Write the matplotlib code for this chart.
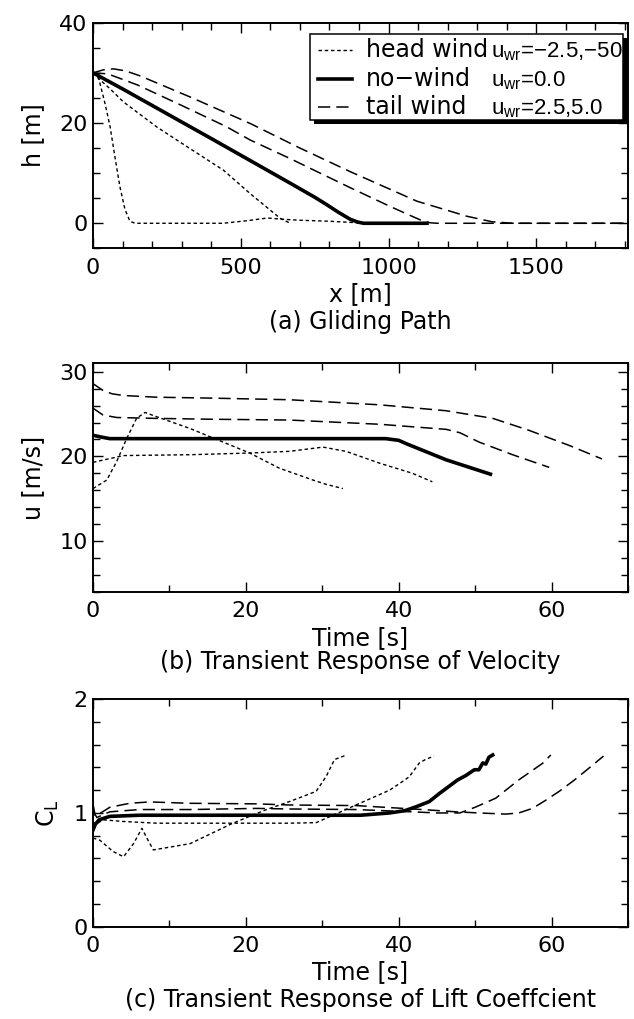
import matplotlib
matplotlib.use("Agg")
import matplotlib.pyplot as plt
from matplotlib import font_manager
from matplotlib.font_manager import FontProperties
from matplotlib.patches import Rectangle
from matplotlib.ticker import MultipleLocator

plt.rcParams["font.family"] = ["DejaVu Sans"]
plt.rcParams["mathtext.fontset"] = "dejavusans"
plt.rcParams["mathtext.default"] = "regular"
plt.rcParams["font.size"] = 17

# (a) gliding path: x [m], h [m]
x_head5 = [0, 18, 41, 58, 74, 91, 108, 125, 142, 200, 300, 440, 520, 590, 640, 700, 800, 880, 920]
h_head5 = [30, 29.2, 23.8, 19.2, 13.3, 7.3, 2.8, 0.4, 0, 0, 0, 0, 0.5, 1.05, 0.8, 0.6, 0.4, 0.15, 0]
x_head25 = [0, 20, 58, 103, 216, 328, 441, 532, 600, 633, 667]
h_head25 = [30, 28.8, 26.8, 24.2, 19.2, 14.9, 10.6, 5.9, 2.6, 1.0, 0]
x_nowind = [0, 100, 200, 300, 400, 532, 667, 750, 791, 830, 870, 895, 915, 1130]
h_nowind = [30, 26.8, 23.5, 20.2, 16.9, 12.5, 8.0, 5.2, 3.7, 2.2, 0.8, 0.25, 0, 0]
x_tail25 = [0, 50, 150, 300, 450, 532, 667, 870, 1000, 1060, 1110, 1140, 1164, 1810]
h_tail25 = [30, 29.8, 27.6, 23.5, 19.3, 16.6, 12.9, 7.1, 3.5, 1.9, 0.6, 0.1, 0, 0]
x_tail5 = [0, 35, 69, 110, 159, 328, 532, 700, 870, 1096, 1265, 1350, 1420, 1810]
h_tail5 = [30, 30.6, 30.8, 30.4, 29.4, 25.2, 19.9, 15.0, 10.3, 4.4, 1.4, 0.3, 0, 0]

# (b) velocity: t [s], u [m/s]
t_u_head5 = [0, 1.8, 3.1, 4.4, 5.7, 6.8, 8.3, 12.7, 17.0, 20.5, 24.4, 28.8, 30.5, 32.7]
u_head5 = [16.2, 17.2, 19.4, 22.1, 24.5, 25.2, 24.7, 23.3, 21.7, 20.4, 18.6, 17.2, 16.7, 16.2]
t_u_head25 = [0, 1, 4, 12.7, 20.5, 25.7, 30.1, 33.1, 37.5, 41.8, 44.4]
u_head25 = [19.3, 19.5, 20.1, 20.2, 20.4, 20.6, 21.1, 20.6, 19.2, 18.0, 17.0]
t_u_nowind = [0, 1, 2.2, 10, 20, 30, 38.3, 40, 41, 46.2, 52.0]
u_nowind = [22.5, 22.3, 22.1, 22.1, 22.1, 22.1, 22.1, 21.9, 21.5, 19.6, 17.9]
t_u_tail25 = [0, 1.3, 3.1, 8, 15, 25.7, 37.5, 46.2, 48, 50.5, 54.9, 59.7]
u_tail25 = [25.7, 24.9, 24.6, 24.5, 24.4, 24.3, 23.8, 23.2, 22.8, 21.7, 20.2, 18.7]
t_u_tail5 = [0, 1.3, 2.5, 4.0, 8.3, 15, 25.7, 37.5, 46.2, 52.3, 57.0, 62.3, 66.6]
u_tail5 = [28.6, 27.8, 27.4, 27.2, 27.0, 26.9, 26.7, 26.1, 25.4, 24.5, 23.1, 21.3, 19.7]

# (c) lift coefficient: t [s], C_L
t_c_head5 = [0, 0.9, 2.65, 4.0, 5.3, 6.4, 7.2, 7.9, 12.7, 18.3, 22.7, 25.7, 29.2, 30.5, 31.6, 32.4, 33.2]
cl_head5 = [0.78, 0.76, 0.66, 0.615, 0.73, 0.865, 0.76, 0.675, 0.73, 0.91, 1.03, 1.10, 1.19, 1.32, 1.47, 1.49, 1.51]
t_c_head25 = [0, 0.4, 1.3, 4, 8.3, 15, 25.7, 29.2, 31.4, 34.4, 38.8, 40.8, 41.4, 42.7, 43.5, 44.6]
cl_head25 = [0.92, 0.9, 0.94, 0.925, 0.91, 0.91, 0.91, 0.915, 0.98, 1.07, 1.2, 1.29, 1.32, 1.44, 1.47, 1.5]
t_c_nowind = [0, 0.3, 0.8, 2.2, 6.1, 15, 25, 35, 38.8, 40.8, 42.3, 44, 45.3, 47.7, 48.8, 49.9, 50.5, 51, 51.4, 51.8, 52.3]
cl_nowind = [0.85, 0.9, 0.94, 0.97, 0.98, 0.98, 0.98, 0.98, 1.0, 1.02, 1.055, 1.1, 1.17, 1.29, 1.33, 1.38, 1.38, 1.44, 1.43, 1.49, 1.51]
t_c_tail25 = [0, 0.5, 2.2, 6.1, 12.7, 21.4, 25.7, 34.4, 41.8, 44.9, 48, 50, 52.7, 55.7, 58.9, 59.9]
cl_tail25 = [1.02, 0.96, 1.01, 1.03, 1.03, 1.04, 1.035, 1.03, 1.01, 1.0, 1.0, 1.05, 1.13, 1.29, 1.44, 1.51]
t_c_tail5 = [0, 0.3, 2.2, 4.8, 7.4, 12.7, 21.4, 25.7, 34.4, 43.1, 47.5, 50.5, 54, 55.7, 57.5, 59.2, 61, 63, 65, 66.8]
cl_tail5 = [1.08, 0.97, 1.05, 1.085, 1.097, 1.085, 1.08, 1.07, 1.065, 1.03, 1.01, 1.0, 0.99, 1.0, 1.04, 1.11, 1.19, 1.29, 1.4, 1.5]

# legend text
case_names = ["head wind", "no\u2212wind", "tail wind"]
case_winds = ["$u_{wr}$=\u22122.5,\u221250", "$u_{wr}$=0.0", "$u_{wr}$=2.5,5.0"]

DOT = dict(color="black", lw=1.0, ls=(0, (2.5, 2)))
SOLID = dict(color="black", lw=2.6, ls="-")
DASH = dict(color="black", lw=1.1, ls=(0, (8, 4)))
TICK_FS = 16

W, H = 634, 1019
fig = plt.figure(figsize=(W / 100, H / 100), dpi=100)
left, width = 0.1467, 0.8438
ax_a = fig.add_axes([left, 0.7563, width, 0.2214])
ax_b = fig.add_axes([left, 0.4193, width, 0.2241])
ax_c = fig.add_axes([left, 0.0906, width, 0.2232])


def style_axes(ax, xmaj, xmin, ymaj, ymin):
    ax.xaxis.set_major_locator(MultipleLocator(xmaj))
    ax.xaxis.set_minor_locator(MultipleLocator(xmin))
    ax.yaxis.set_major_locator(MultipleLocator(ymaj))
    ax.yaxis.set_minor_locator(MultipleLocator(ymin))
    ax.tick_params(which="both", direction="in", top=True, right=True, width=1.0,
                   labelsize=TICK_FS)
    ax.tick_params(which="major", length=7)
    ax.tick_params(which="minor", length=5)
    ax.tick_params(axis="x", pad=7)
    ax.tick_params(axis="y", pad=4)
    for sp in ax.spines.values():
        sp.set_linewidth(1.4)


# (a)
ax_a.plot(x_head5, h_head5, **DOT)
ax_a.plot(x_head25, h_head25, **DOT)
ax_a.plot(x_nowind, h_nowind, **SOLID)
ax_a.plot(x_tail25, h_tail25, **DASH)
ax_a.plot(x_tail5, h_tail5, **DASH)
ax_a.set_xlim(0, 1810)
ax_a.set_ylim(-5, 40)
style_axes(ax_a, 500, 100, 20, 5)
ax_a.set_xlabel("x [m]", labelpad=3)
ax_a.set_ylabel("h [m]", labelpad=10)

# legend drawn by hand (two text columns, black drop shadow)
try:
    font_manager.findfont(FontProperties(family="Liberation Sans Narrow"),
                          fallback_to_default=False)
    wind_font, wind_fs = "Liberation Sans Narrow", 18
except ValueError:
    wind_font, wind_fs = "Liberation Sans", 16


def px(x, y):
    # figure pixel (from top-left) -> figure fraction
    return x / W, 1 - y / H


box_l, box_t, box_r, box_b = 310, 34, 623, 120
fig.add_artist(Rectangle(px(box_l + 4, box_b + 4), (box_r - box_l) / W, (box_b - box_t) / H,
                         transform=fig.transFigure, facecolor="black", edgecolor="none",
                         zorder=5))
fig.add_artist(Rectangle(px(box_l, box_b), (box_r - box_l) / W, (box_b - box_t) / H,
                         transform=fig.transFigure, facecolor="white", edgecolor="black",
                         lw=1.1, zorder=6))
row_y = [50, 79, 107]
for style, name, wind, y in zip([DOT, SOLID, DASH], case_names, case_winds, row_y):
    x0, y0 = px(318, y)
    x1, _ = px(352, y)
    fig.add_artist(plt.Line2D([x0, x1], [y0, y0], transform=fig.transFigure, zorder=7, **style))
    fig.text(*px(366, y + 7), name, fontsize=17, va="baseline", zorder=7)
    fig.text(*px(491, y + 7), wind, fontsize=wind_fs, family=wind_font, va="baseline", zorder=7)

# (b)
ax_b.plot(t_u_head5, u_head5, **DOT)
ax_b.plot(t_u_head25, u_head25, **DOT)
ax_b.plot(t_u_nowind, u_nowind, **SOLID)
ax_b.plot(t_u_tail25, u_tail25, **DASH)
ax_b.plot(t_u_tail5, u_tail5, **DASH)
ax_b.set_xlim(0, 70)
ax_b.set_ylim(4, 31)
style_axes(ax_b, 20, 10, 10, 2)
ax_b.set_xlabel("Time [s]", labelpad=3)
ax_b.set_ylabel("u [m/s]", labelpad=10)

# (c)
ax_c.plot(t_c_head5, cl_head5, **DOT)
ax_c.plot(t_c_head25, cl_head25, **DOT)
ax_c.plot(t_c_nowind, cl_nowind, **SOLID)
ax_c.plot(t_c_tail25, cl_tail25, **DASH)
ax_c.plot(t_c_tail5, cl_tail5, **DASH)
ax_c.set_xlim(0, 70)
ax_c.set_ylim(0, 2)
style_axes(ax_c, 20, 10, 1, 0.2)
ax_c.set_xlabel("Time [s]", labelpad=3)
ax_c.set_ylabel("$C_L$", labelpad=9)

cx = left + width / 2
fig.text(cx, 1 - 322 / H, "(a) Gliding Path", ha="center", va="center")
fig.text(cx, 1 - 662 / H, "(b) Transient Response of Velocity", ha="center", va="center")
fig.text(cx, 1 - 1000 / H, "(c) Transient Response of Lift Coeffcient", ha="center", va="center")

fig.savefig("out.png", dpi=100)
